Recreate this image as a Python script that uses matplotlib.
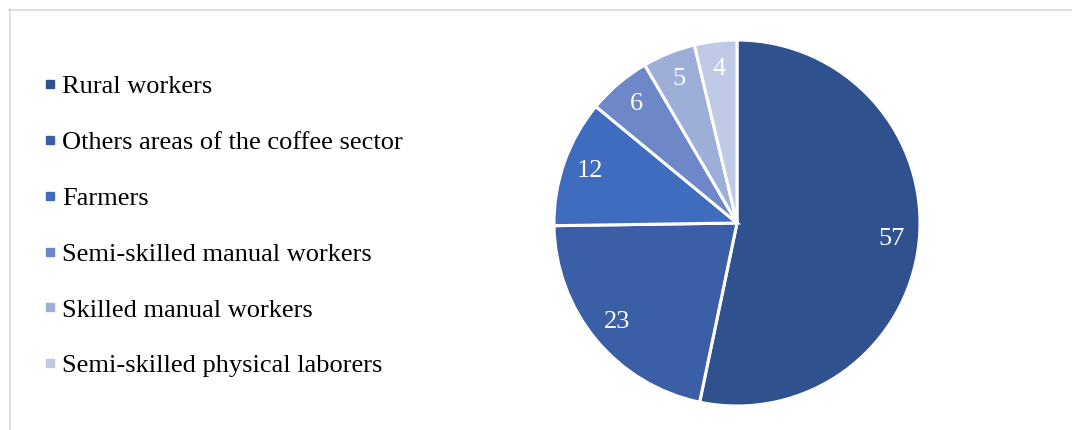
import matplotlib
matplotlib.use("Agg")
import matplotlib.pyplot as plt
from matplotlib.lines import Line2D

plt.rcParams['font.family'] = ['Liberation Serif', 'DejaVu Serif']

categories = [
    "Rural workers",
    "Others areas of the coffee sector",
    "Farmers",
    "Semi-skilled manual workers",
    "Skilled manual workers",
    "Semi-skilled physical laborers",
]
values = [57, 23, 12, 6, 5, 4]
colors = ["#2F528F", "#3A5FA7", "#3F6CBE", "#6D87C8", "#9DAED9", "#C0CAE6"]

W, H, DPI = 1072, 430, 100
fig = plt.figure(figsize=(W / DPI, H / DPI), dpi=DPI)

# pie placement in pixels
cx, cy, r = 737, 223, 183
half = 190
ax = fig.add_axes([(cx - half) / W, (H - cy - half) / H, 2 * half / W, 2 * half / H])
total = sum(values)
wedges, texts, autotexts = ax.pie(
    values, colors=colors, startangle=90, counterclock=False, radius=1.0,
    autopct=lambda p: f"{p * total / 100:.0f}", pctdistance=0.85,
    wedgeprops=dict(edgecolor="white", linewidth=2.2),
    textprops=dict(color="white", fontsize=19),
)
lim = half / r
ax.set_xlim(-lim, lim)
ax.set_ylim(-lim, lim)
ax.set_aspect("equal")
ax.axis("off")

handles = [Line2D([], [], marker="s", linestyle="", color=c, markersize=6) for c in colors]
leg = fig.legend(
    handles, categories, loc="upper left",
    bbox_to_anchor=(43 / W, 1 - 75 / H), frameon=False,
    fontsize=19, handlelength=0.5, handletextpad=0.22,
    labelspacing=1.225, borderpad=0, borderaxespad=0,
)

# light chart-area border (top and left edges visible)
border = "#D9D9D9"
fig.add_artist(Line2D([9 / W, 1], [1 - 9.5 / H, 1 - 9.5 / H], color=border, lw=1.2, transform=fig.transFigure))
fig.add_artist(Line2D([9.5 / W, 9.5 / W], [0, 1 - 9 / H], color=border, lw=1.2, transform=fig.transFigure))

fig.savefig("out.png", dpi=DPI, facecolor="white")
